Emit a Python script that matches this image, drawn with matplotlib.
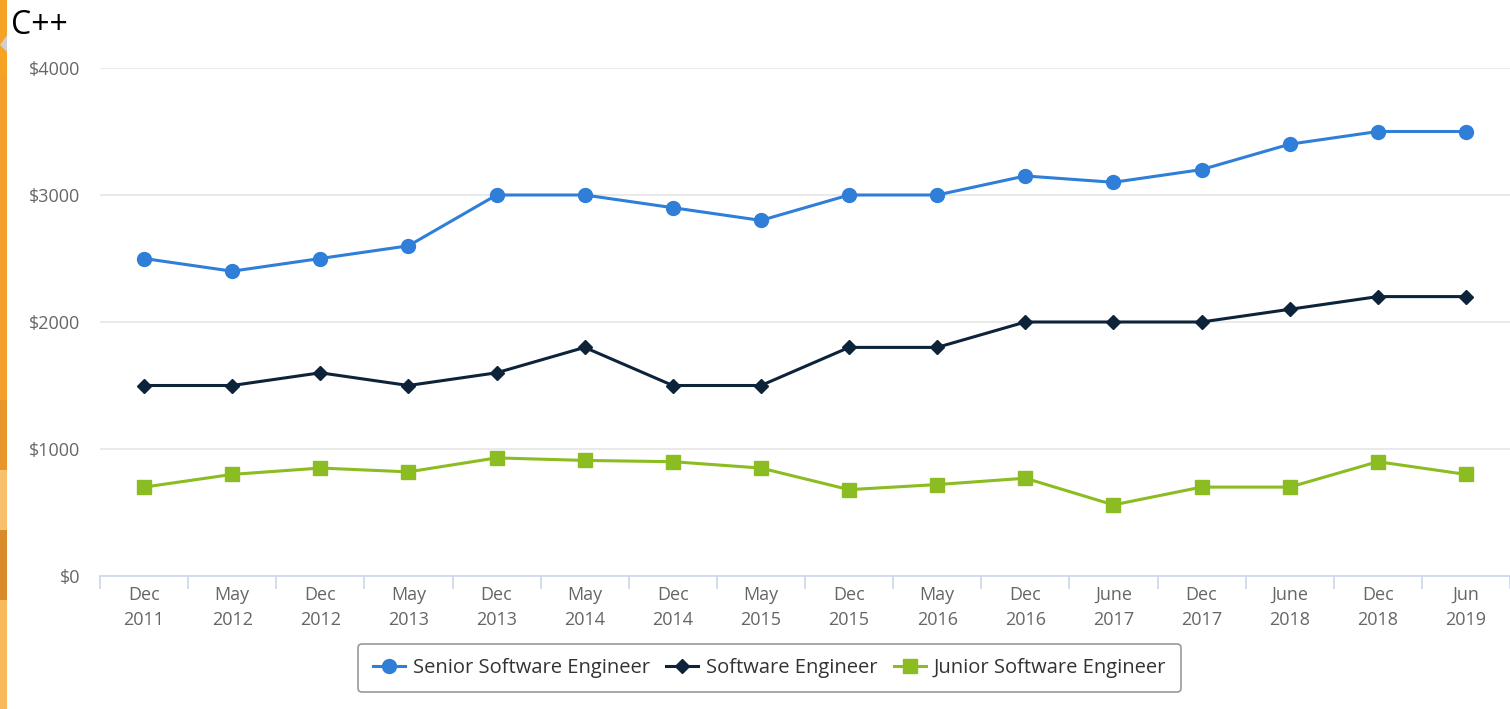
import matplotlib
matplotlib.use("Agg")
import matplotlib.pyplot as plt
from matplotlib.patches import Rectangle, Polygon

plt.rcParams['font.family'] = ['Open Sans', 'DejaVu Sans']

categories = ["Dec\n2011", "May\n2012", "Dec\n2012", "May\n2013", "Dec\n2013", "May\n2014",
              "Dec\n2014", "May\n2015", "Dec\n2015", "May\n2016", "Dec\n2016", "June\n2017",
              "Dec\n2017", "June\n2018", "Dec\n2018", "Jun\n2019"]
senior = [2500, 2400, 2500, 2600, 3000, 3000, 2900, 2800, 3000, 3000, 3150, 3100, 3200, 3400, 3500, 3500]
software = [1500, 1500, 1600, 1500, 1600, 1800, 1500, 1500, 1800, 1800, 2000, 2000, 2000, 2100, 2200, 2200]
junior = [700, 800, 850, 820, 930, 910, 900, 850, 680, 720, 770, 560, 700, 700, 900, 800]
yticks = [0, 1000, 2000, 3000, 4000]
ytick_labels = ["$0", "$1000", "$2000", "$3000", "$4000"]

W, H = 1510, 709
fig = plt.figure(figsize=(W / 100, H / 100), dpi=100)
fig.patch.set_facecolor("white")

# decorative orange strip on the left edge
strips = [(0, 75, "#F4A325"), (75, 400, "#F2A02A"), (400, 470, "#E8962C"),
          (470, 530, "#F8C06A"), (530, 600, "#D98A2A"), (600, 709, "#F7B95A")]
for y0, y1, c in strips:
    fig.add_artist(Rectangle((0, 1 - y1 / H), 7 / W, (y1 - y0) / H, transform=fig.transFigure,
                             facecolor=c, edgecolor="none"))
fig.add_artist(Polygon([(0, 1 - 45 / H), (7 / W, 1 - 35 / H), (7 / W, 1 - 52 / H)],
                       closed=True, transform=fig.transFigure, facecolor="#CFCFCF", edgecolor="none"))

ax = fig.add_axes([100 / W, 1 - 576 / H, 1410 / W, (576 - 68) / H])
x = list(range(len(categories)))

ax.plot(x, senior, color="#2f7ed8", lw=2.2, marker="o", ms=10, label="Senior Software Engineer", zorder=3)
ax.plot(x, software, color="#0d233a", lw=2.2, marker="D", ms=7.5, label="Software Engineer", zorder=3)
ax.plot(x, junior, color="#8bbc21", lw=2.2, marker="s", ms=9.5, label="Junior Software Engineer", zorder=3)

ax.set_xlim(-0.5, len(categories) - 0.5)
ax.set_ylim(0, 4000)
ax.set_yticks(yticks)
ax.set_yticklabels(ytick_labels)
ax.set_xticks(x)
ax.set_xticklabels(categories, linespacing=1.5)
ax.set_xticks([i - 0.5 for i in range(len(categories) + 1)], minor=True)

for s in ["top", "right", "left"]:
    ax.spines[s].set_visible(False)
ax.spines["bottom"].set_color("#ccd6eb")
ax.spines["bottom"].set_linewidth(1.2)

ax.grid(axis="y", color="#e6e6e6", lw=1.2)
ax.set_axisbelow(True)
ax.tick_params(axis="y", length=0, pad=14, labelsize=13, labelcolor="#666666")
ax.tick_params(axis="x", which="major", length=0, pad=7, labelsize=13, labelcolor="#666666")
ax.tick_params(axis="x", which="minor", length=9, color="#ccd6eb", width=1.2)

fig.text(11 / W, 1 - 26 / H, "C++", fontsize=23, color="black", va="center", ha="left")

leg = fig.legend(loc="center", bbox_to_anchor=(769.5 / W, 1 - 668 / H), ncol=3,
                 fontsize=14.5, frameon=True, fancybox=True, handlelength=1.6,
                 columnspacing=0.8, handletextpad=0.4, borderpad=0.7, labelcolor="#333333")
leg.get_frame().set_edgecolor("#999999")
leg.get_frame().set_linewidth(1.2)
leg.get_frame().set_alpha(1)

fig.savefig("out.png", dpi=100)
